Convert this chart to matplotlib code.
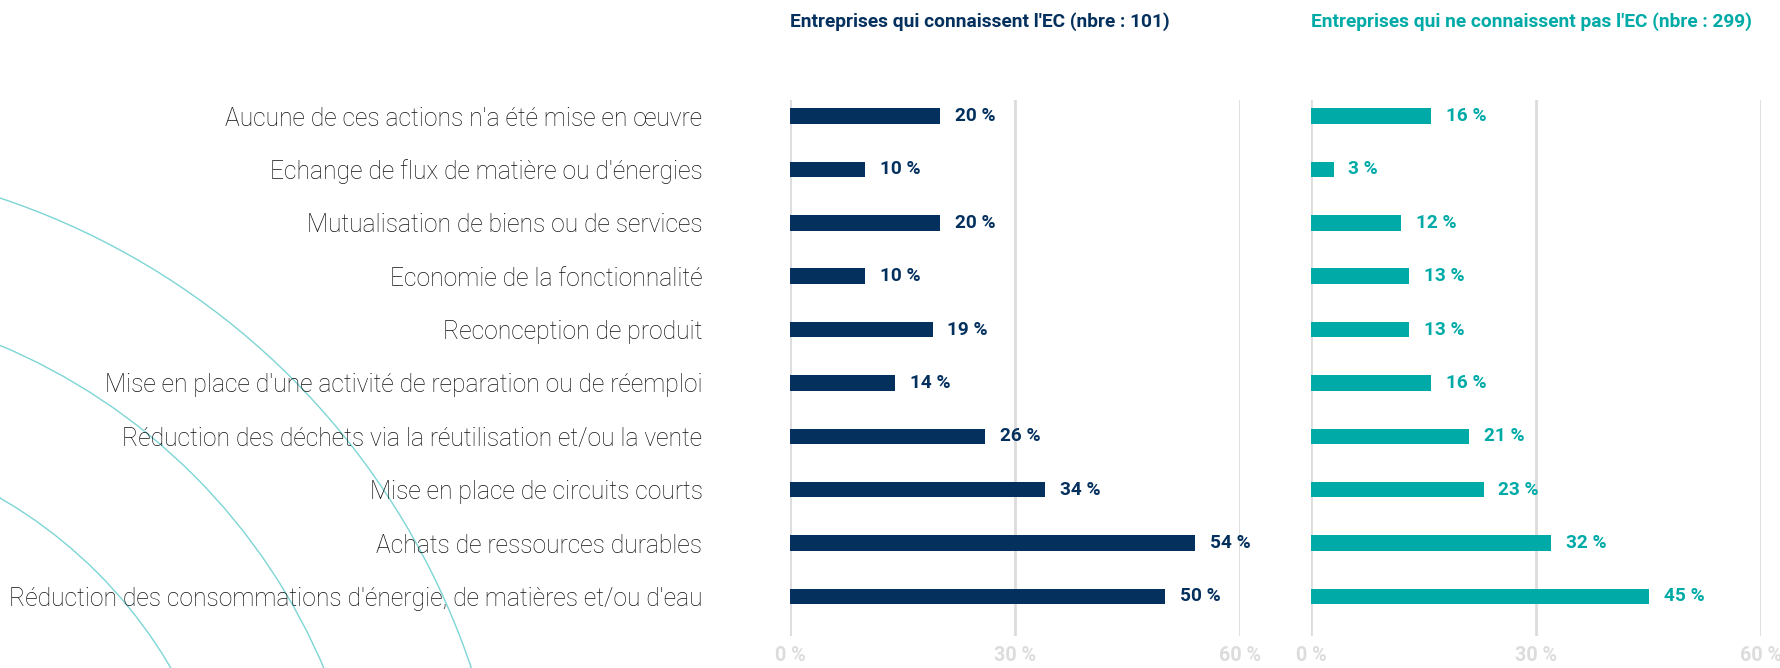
import matplotlib.pyplot as plt
import numpy as np
from matplotlib.patches import Circle

# data
categories = [
    "Aucune de ces actions n'a été mise en œuvre",
    "Echange de flux de matière ou d'énergies",
    "Mutualisation de biens ou de services",
    "Economie de la fonctionnalité",
    "Reconception de produit",
    "Mise en place d'une activité de reparation ou de réemploi",
    "Réduction des déchets via la réutilisation et/ou la vente",
    "Mise en place de circuits courts",
    "Achats de ressources durables",
    "Réduction des consommations d'énergie, de matières et/ou d'eau",
]
known_ec = [20, 10, 20, 10, 19, 14, 26, 34, 54, 50]
unknown_ec = [16, 3, 12, 13, 13, 16, 21, 23, 32, 45]
titles = ["Entreprises qui connaissent l'EC (nbre : 101)",
          "Entreprises qui ne connaissent pas l'EC (nbre : 299)"]
ticks = [0, 30, 60]

NAVY = '#04305e'
TEAL = '#00aaa7'
GRID = '#dcdcdc'
ARC = '#7dd5d5'

plt.rcParams['font.family'] = ['Roboto', 'DejaVu Sans']

W, H = 1780, 668
fig = plt.figure(figsize=(W / 100, H / 100), dpi=100)

# decorative concentric arcs in the bottom-left corner (pixel coords)
bg = fig.add_axes([0, 0, 1, 1])
bg.set_xlim(0, W), bg.set_ylim(H, 0), bg.axis('off')
for r in (470, 607, 745):
    bg.add_patch(Circle((-235, 905), r, fill=False, color=ARC, lw=1.0))

y = np.arange(len(categories))
ax_bottom, ax_h = 32 / H, 536 / H
panels = [(790, known_ec, NAVY, titles[0]), (1311, unknown_ec, TEAL, titles[1])]

for i, (x0, vals, col, title) in enumerate(panels):
    ax = fig.add_axes([x0 / W, ax_bottom, 450 / W, ax_h])
    ax.set_xlim(0, 60)
    ax.set_ylim(9.74, -0.30)
    for t in ticks:
        ax.axvline(t, color=GRID, lw=2, zorder=0)
    ax.barh(y, vals, height=0.29, color=col, zorder=2)
    for yy, v in zip(y, vals):
        ax.text(v + 2, yy, f'{v} %', color=col, fontsize=13.7, fontweight='bold',
                va='center', ha='left', zorder=3)
    ax.set_xticks(ticks)
    ax.set_xticklabels([f'{t} %' for t in ticks], color=GRID, fontsize=14.2,
                       fontweight='bold')
    ax.tick_params(axis='x', length=0, pad=7)
    ax.set_yticks([])
    for s in ax.spines.values():
        s.set_visible(False)
    ax.patch.set_alpha(0)
    fig.text(x0 / W, 1 - 22 / H, title, color=col, fontsize=13.8, fontweight='bold',
             va='center', ha='left')
    if i == 0:
        ax.set_yticks(y)
        ax.set_yticklabels(categories, fontsize=17.7, fontweight='light', color='#111111')
        ax.tick_params(axis='y', length=0, pad=63)

fig.savefig('out.png', dpi=100)
